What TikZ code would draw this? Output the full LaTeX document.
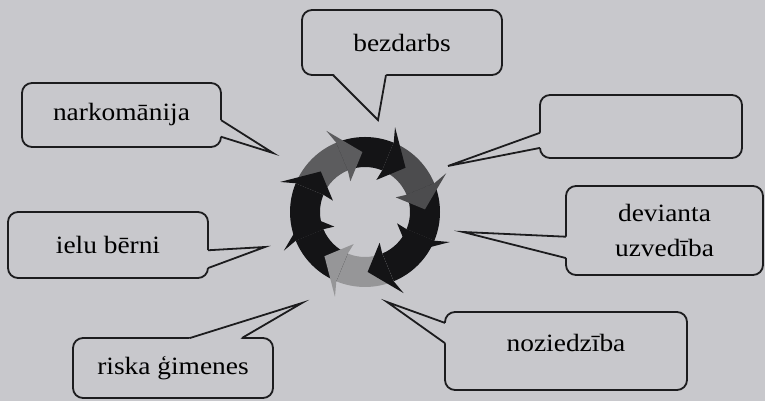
\documentclass[tikz,border=0pt]{standalone}
\usepackage{fontspec}
\setmainfont[FakeStretch=1.1]{Liberation Serif}
\usetikzlibrary{calc,backgrounds}

\definecolor{page}{RGB}{200,200,204}
\definecolor{ink}{RGB}{28,28,30}
\definecolor{ringblack}{RGB}{20,20,22}
\definecolor{greymid}{RGB}{92,92,94}
\definecolor{greydark}{RGB}{76,76,78}
\definecolor{greylight}{RGB}{150,150,152}

\begin{document}
\begin{tikzpicture}[
    x=0.5bp, y=0.5bp,
    font=\fontsize{12.5}{16}\selectfont, line width=0.9bp,
    background rectangle/.style={fill=page,draw=none},
    show background rectangle, inner frame sep=0pt,
    bubble/.style={draw=ink,fill=page,rounded corners=5bp,align=center,
                   inner sep=0pt,outer sep=0pt},
    pointer/.style={draw=ink,line join=miter}
]
\path[use as bounding box] (0,0) rectangle (765,401);

% callout boxes
\node[bubble,minimum width=100bp,minimum height=32.5bp] (bez) at (402,358.5) {bezdarbs};
\node[bubble,minimum width=99.5bp,minimum height=32bp] (nark) at (121.5,286) {narkomānija};
\node[bubble,minimum width=101bp,minimum height=31.5bp] (empty) at (641,274.5) {};
\node[bubble,minimum width=98.5bp,minimum height=44.5bp] (dev) at (664.5,170.5)
    {devianta\\[1.5pt]uzvedība};
\node[bubble,minimum width=100bp,minimum height=33bp] (ielu) at (108,156) {ielu bērni};
\node[bubble,minimum width=100bp,minimum height=30bp] (riska) at (173,33) {riska ģimenes};
\node[bubble,minimum width=121bp,minimum height=39bp,text depth=8bp] (noz) at (566,50)
    {noziedzība};

% where the pointers end
\coordinate (hub) at (365,189);
\coordinate (bez-tip) at (378,281);
\coordinate (nark-tip) at (273,248);
\coordinate (empty-tip) at (448,235);
\coordinate (dev-tip) at (463,169);
\coordinate (ielu-tip) at (265,154);
\coordinate (riska-tip) at (302,98);
\coordinate (noz-tip) at (387,99);

\foreach \n/\p/\q/\s/\t in {bez/south west/south east/.155/.42,
        nark/north east/south east/.58/.84,
        empty/north west/south west/.6/.84,
        dev/north west/south west/.57/.81,
        ielu/north east/south east/.58/.85,
        riska/north west/north east/.585/.845,
        noz/north west/south west/.14/.40} {
    \coordinate (\n-a) at ($(\n.\p)!\s!(\n.\q)$);
    \coordinate (\n-b) at ($(\n.\p)!\t!(\n.\q)$);
    \fill[page] ($(\n-a)!2bp!(\n.center)$) -- (\n-a) -- (\n-tip) -- (\n-b)
        -- ($(\n-b)!2bp!(\n.center)$) -- cycle;
    \draw[pointer] (\n-a) -- (\n-tip) -- (\n-b);
}

% ring of arrows, clockwise
\begin{scope}[shift={(hub)}]
\foreach \a/\c in {157.5/ringblack,112.5/greymid,67.5/ringblack,22.5/greydark,
        -22.5/ringblack,-67.5/ringblack,-112.5/greylight,-157.5/ringblack}
    \fill[\c] (\a+45:75) arc[start angle=\a+45,end angle=\a,radius=75]
        -- (\a:45) arc[start angle=\a,end angle=\a+45,radius=45] -- cycle;
\foreach \a/\c in {157.5/ringblack,112.5/greymid,67.5/ringblack,22.5/greydark,
        -22.5/ringblack,-67.5/ringblack,-112.5/greylight,-157.5/ringblack}
    \fill[\c] (\a:75) -- (\a+3:90) -- (\a-20:60) -- (\a+3:34) -- (\a:45) -- cycle;
\end{scope}
\end{tikzpicture}
\end{document}
